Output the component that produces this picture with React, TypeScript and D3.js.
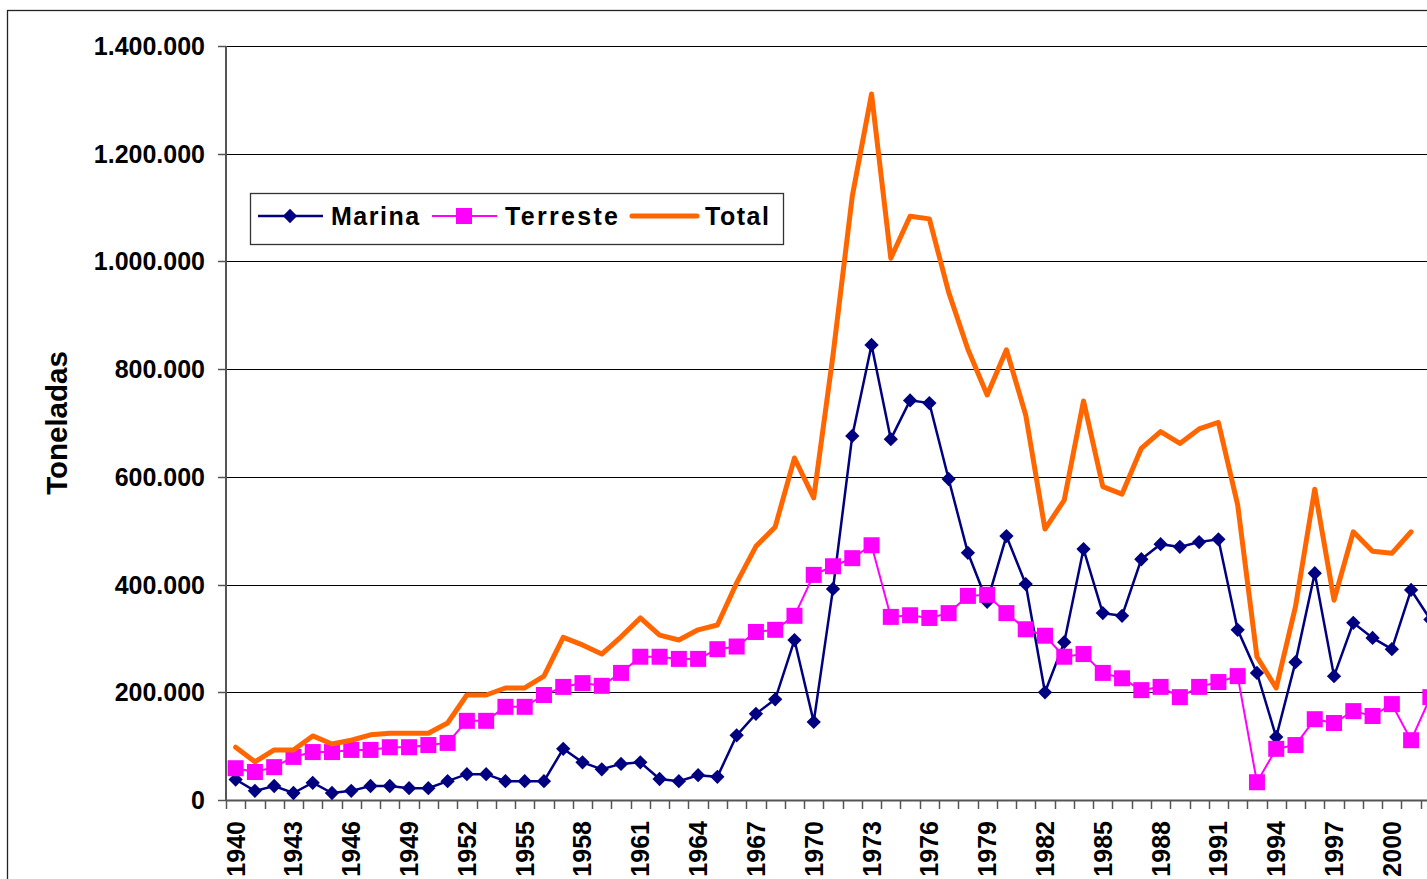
import React, { useEffect, useRef } from 'react';
import * as d3 from 'd3';

// years on the category axis
const years = [
  1940, 1941, 1942, 1943, 1944, 1945, 1946, 1947, 1948, 1949,
  1950, 1951, 1952, 1953, 1954, 1955, 1956, 1957, 1958, 1959,
  1960, 1961, 1962, 1963, 1964, 1965, 1966, 1967, 1968, 1969,
  1970, 1971, 1972, 1973, 1974, 1975, 1976, 1977, 1978, 1979,
  1980, 1981, 1982, 1983, 1984, 1985, 1986, 1987, 1988, 1989,
  1990, 1991, 1992, 1993, 1994, 1995, 1996, 1997, 1998, 1999,
  2000, 2001, 2002,
];

// thousands of tonnes
const marina = [
  38, 17, 26, 13, 32, 13, 17, 26, 26, 22,
  22, 35, 48, 48, 35, 35, 35, 95, 70, 57,
  67, 70, 39, 35, 46, 43, 120, 160, 187, 297,
  145, 392, 676, 845, 670, 742, 737, 596, 459, 368,
  490, 401, 200, 293, 466, 347, 342, 447, 475, 470,
  479, 484, 316, 236, 117, 256, 421, 230, 329, 301,
  280, 390, 335,
];

const terreste = [
  59, 52, 61, 80, 89, 89, 93, 93, 98, 98,
  102, 106, 147, 147, 173, 173, 195, 210, 217, 212,
  236, 266, 266, 262, 262, 280, 285, 312, 316, 342,
  418, 434, 449, 473, 340, 343, 338, 347, 379, 381,
  347, 317, 305, 266, 271, 236, 226, 204, 210, 191,
  210, 219, 230, 33, 95, 102, 150, 143, 165, 156,
  178, 111, 191,
];

const total: (number | null)[] = [
  98, 71, 93, 93, 119, 104, 111, 121, 124, 124,
  124, 143, 195, 195, 208, 208, 230, 302, 288, 271,
  303, 338, 306, 297, 316, 325, 403, 471, 507, 635,
  561, 826, 1121, 1311, 1006, 1084, 1079, 943, 837, 752,
  836, 715, 503, 557, 741, 582, 568, 653, 684, 662,
  689, 701, 548, 266, 208, 359, 577, 371, 498, 462,
  458, 498, null,
];

const yTicks = [0, 200000, 400000, 600000, 800000, 1000000, 1200000, 1400000];
const xLabelYears = years.filter(y => (y - 1940) % 3 === 0);

const seriesNames = ['Marina', 'Terreste', 'Total'];
const FONT = '"Liberation Sans", Arial, sans-serif';

const App = () => {
  const svg = useRef(null);
  const width = 1427;
  const height = 879;
  const plot = { left: 226, top: 46, bottom: 800, step: 19.27 };

  const renderChart = (svg: any) => {
    svg.selectAll('*').remove();

    const xscale = d3
      .scaleBand()
      .domain(years.map(String))
      .range([plot.left, plot.left + years.length * plot.step])
      .paddingInner(0)
      .paddingOuter(0);

    const cx = (yr: number) => (xscale(String(yr)) as number) + xscale.bandwidth() / 2;

    const yscale = d3.scaleLinear().domain([0, 1400000]).range([plot.bottom, plot.top]);

    const locale = d3.formatLocale({ decimal: ',', thousands: '.', grouping: [3], currency: ['', ''] });
    const fmt = locale.format(',d');

    // outer chart frame
    svg
      .append('rect')
      .attr('x', 7.5)
      .attr('y', 10.5)
      .attr('width', 1600)
      .attr('height', 1000)
      .attr('fill', '#fff')
      .attr('stroke', '#222')
      .attr('stroke-width', 1.3);

    // gridlines
    svg
      .append('g')
      .selectAll('line')
      .data(yTicks.slice(1))
      .enter()
      .append('line')
      .attr('x1', plot.left)
      .attr('x2', width + 50)
      .attr('y1', (d: number) => Math.round(yscale(d)) + 0.5)
      .attr('y2', (d: number) => Math.round(yscale(d)) + 0.5)
      .attr('stroke', '#000')
      .attr('stroke-width', 1);

    // y axis
    const yAxis = svg.append('g');
    yAxis
      .append('line')
      .attr('x1', plot.left)
      .attr('x2', plot.left)
      .attr('y1', plot.top)
      .attr('y2', plot.bottom)
      .attr('stroke', '#555')
      .attr('stroke-width', 2);
    yAxis
      .selectAll('.ytick')
      .data(yTicks)
      .enter()
      .append('line')
      .attr('x1', plot.left - 8)
      .attr('x2', plot.left)
      .attr('y1', (d: number) => Math.round(yscale(d)) + 0.5)
      .attr('y2', (d: number) => Math.round(yscale(d)) + 0.5)
      .attr('stroke', '#555')
      .attr('stroke-width', 1.5);
    yAxis
      .selectAll('text')
      .data(yTicks)
      .enter()
      .append('text')
      .attr('x', 205)
      .attr('y', (d: number) => yscale(d))
      .attr('dy', '0.36em')
      .attr('text-anchor', 'end')
      .attr('font-family', FONT)
      .attr('font-weight', 'bold')
      .attr('font-size', 25)
      .attr('fill', '#000')
      .text((d: number) => fmt(d));

    svg
      .append('text')
      .attr('transform', `translate(67, 423) rotate(-90)`)
      .attr('text-anchor', 'middle')
      .attr('font-family', FONT)
      .attr('font-weight', 'bold')
      .attr('font-size', 29.5)
      .attr('fill', '#000')
      .text('Toneladas');

    // x axis
    const xAxis = svg.append('g');
    xAxis
      .append('line')
      .attr('x1', plot.left)
      .attr('x2', width + 50)
      .attr('y1', plot.bottom + 0.5)
      .attr('y2', plot.bottom + 0.5)
      .attr('stroke', '#555')
      .attr('stroke-width', 2);
    xAxis
      .selectAll('.xtick')
      .data(years)
      .enter()
      .append('line')
      .attr('x1', (d: number) => Math.round(xscale(String(d)) as number) + 0.5)
      .attr('x2', (d: number) => Math.round(xscale(String(d)) as number) + 0.5)
      .attr('y1', plot.bottom)
      .attr('y2', plot.bottom + 9)
      .attr('stroke', '#555')
      .attr('stroke-width', 1.5);
    xAxis
      .selectAll('text')
      .data(xLabelYears)
      .enter()
      .append('text')
      .attr('transform', (d: number) => `translate(${cx(d)}, 821) rotate(-90)`)
      .attr('dy', '0.36em')
      .attr('text-anchor', 'end')
      .attr('font-family', FONT)
      .attr('font-weight', 'bold')
      .attr('font-size', 25)
      .attr('fill', '#000')
      .text((d: number) => String(d));

    const line = d3
      .line<number | null>()
      .defined(d => d !== null)
      .x((_, i) => cx(years[i]))
      .y(d => yscale((d as number) * 1000));

    const area = svg.append('g');

    // Marina
    area
      .append('path')
      .datum(marina)
      .attr('d', line as any)
      .attr('fill', 'none')
      .attr('stroke', '#000080')
      .attr('stroke-width', 2.5);
    const diamond = d3.symbol().type(d3.symbolDiamond2).size(130)();
    area
      .selectAll('.dia')
      .data(marina)
      .enter()
      .append('path')
      .attr('d', diamond)
      .attr('transform', (d: number, i: number) => `translate(${cx(years[i])}, ${yscale(d * 1000)})`)
      .attr('fill', '#000080');

    // Terreste
    area
      .append('path')
      .datum(terreste)
      .attr('d', line as any)
      .attr('fill', 'none')
      .attr('stroke', '#ff00ff')
      .attr('stroke-width', 2);
    area
      .selectAll('.sq')
      .data(terreste)
      .enter()
      .append('rect')
      .attr('x', (d: number, i: number) => cx(years[i]) - 8)
      .attr('y', (d: number) => yscale(d * 1000) - 8)
      .attr('width', 16)
      .attr('height', 16)
      .attr('fill', '#ff00ff');

    // Total
    area
      .append('path')
      .datum(total)
      .attr('d', line as any)
      .attr('fill', 'none')
      .attr('stroke', '#ff6600')
      .attr('stroke-width', 5)
      .attr('stroke-linejoin', 'round')
      .attr('stroke-linecap', 'round');

    // legend
    const lg = svg.append('g');
    lg.append('rect')
      .attr('x', 250.5)
      .attr('y', 193.5)
      .attr('width', 533)
      .attr('height', 51)
      .attr('fill', '#fff')
      .attr('stroke', '#333')
      .attr('stroke-width', 1.3);
    const items = [
      { x: 258, color: '#000080', w: 2.5, marker: 'diamond', ls: 1.5 },
      { x: 432, color: '#ff00ff', w: 2, marker: 'square', ls: 2.3 },
      { x: 632, color: '#ff6600', w: 5, marker: 'none', ls: 1.5 },
    ];
    items.forEach((it, i) => {
      const ly = 216;
      lg.append('line')
        .attr('x1', it.x)
        .attr('x2', it.x + 65)
        .attr('y1', ly)
        .attr('y2', ly)
        .attr('stroke', it.color)
        .attr('stroke-width', it.w)
        .attr('stroke-linecap', it.marker === 'none' ? 'round' : 'butt');
      if (it.marker === 'diamond') {
        lg.append('path')
          .attr('d', diamond)
          .attr('transform', `translate(${it.x + 32}, ${ly})`)
          .attr('fill', it.color);
      } else if (it.marker === 'square') {
        lg.append('rect')
          .attr('x', it.x + 32 - 8)
          .attr('y', ly - 8)
          .attr('width', 16)
          .attr('height', 16)
          .attr('fill', it.color);
      }
      lg.append('text')
        .attr('x', it.x + 73)
        .attr('y', ly)
        .attr('dy', '0.36em')
        .attr('font-family', FONT)
        .attr('font-weight', 'bold')
        .attr('font-size', 25)
        .attr('letter-spacing', it.ls)
        .attr('fill', '#000')
        .text(seriesNames[i]);
    });
  };

  useEffect(() => {
    renderChart(d3.select(svg.current));
  }, []);

  return (
    <svg
      ref={svg}
      width={width}
      height={height}
      style={{ position: 'absolute', left: 0, top: 0, background: '#fff' }}
    />
  );
};

export default App;
